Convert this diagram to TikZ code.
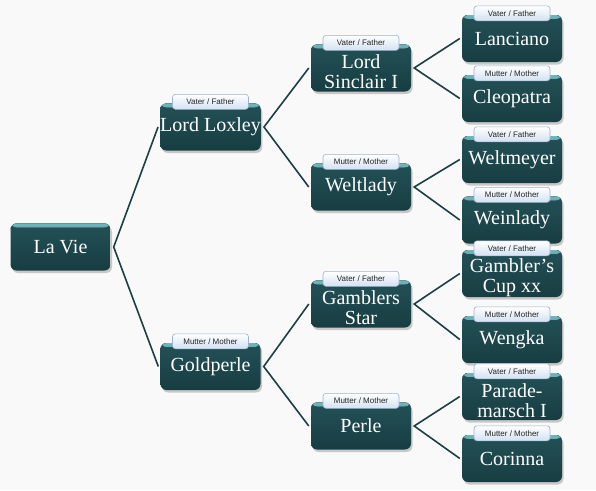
\documentclass[tikz,border=0pt]{standalone}
\usepackage{fontspec}
\setmainfont{Liberation Serif}
\newfontfamily\tabfont{Liberation Sans}
\usetikzlibrary{shadows,calc}
\definecolor{boxtop}{HTML}{235157}
\definecolor{boxbot}{HTML}{173D42}
\definecolor{bevel}{HTML}{6FB5BA}
\definecolor{linecol}{HTML}{1B3F44}
\definecolor{tabtop}{HTML}{FFFFFF}
\definecolor{tabbot}{HTML}{D3E1F2}
\definecolor{tabline}{HTML}{9DB3CF}
\definecolor{bg}{HTML}{F9F9F9}
\tikzset{
  horse/.style={rounded corners=6pt, minimum width=100pt, minimum height=47pt,
    inner sep=0pt, align=center, text=white,
    font=\fontsize{20}{20}\selectfont,
    top color=boxtop, bottom color=boxbot,
    drop shadow={opacity=0.4, shadow xshift=1.5pt, shadow yshift=-2.5pt},
    path picture={\fill[top color=bevel, bottom color=boxtop]
      (path picture bounding box.north west) rectangle
      ([yshift=-4pt]path picture bounding box.north east);}},
  tabbox/.style={rounded corners=3pt, minimum width=76pt, minimum height=15pt,
    inner sep=0pt, top color=tabtop, bottom color=tabbot, draw=tabline,
    line width=0.6pt, font=\tabfont\fontsize{8}{8}\selectfont, text=black!85,
    yshift=1.5pt},
  conn/.style={draw=linecol, line width=1.6pt}
}
\newcommand{\tallline}{\rule{0pt}{22pt}}
\begin{document}
\begin{tikzpicture}[x=1pt,y=-1pt]
\fill[bg] (0,0) rectangle (596,490);
\useasboundingbox (0,0) rectangle (596,490);
% level 0
\node[horse] (lavie) at (60.5,247) {La Vie};
% level 1
\node[horse] (loxley) at (210.5,127) {Lord Loxley};
\node[horse] (goldperle) at (210.5,366.5) {Goldperle};
% level 2
\node[horse] (sinclair) at (361,68) {\tallline Lord\\Sinclair I};
\node[horse] (weltlady) at (361,187) {Weltlady};
\node[horse] (gstar) at (361,304) {\tallline Gamblers\\Star};
\node[horse] (perle) at (361,426) {Perle};
% level 3
\node[horse] (lanciano) at (512,38.5) {Lanciano};
\node[horse] (cleopatra) at (512,98.5) {Cleopatra};
\node[horse] (weltmeyer) at (512,159.5) {Weltmeyer};
\node[horse] (weinlady) at (512,220) {Weinlady};
\node[horse] (gcup) at (512,273.5) {\tallline Gambler's\\Cup xx};
\node[horse] (wengka) at (512,339.5) {Wengka};
\node[horse] (parade) at (512,396.5) {\tallline Parade-\\marsch I};
\node[horse] (corinna) at (512,458.5) {Corinna};
% tabs
\node[tabbox] (t1) at (loxley.north) {Vater / Father};
\node[tabbox] (t2) at (goldperle.north) {Mutter / Mother};
\node[tabbox] (t3) at (sinclair.north) {Vater / Father};
\node[tabbox] (t4) at (weltlady.north) {Mutter / Mother};
\node[tabbox] (t5) at (gstar.north) {Vater / Father};
\node[tabbox] (t6) at (perle.north) {Mutter / Mother};
\node[tabbox] (t7) at (lanciano.north) {Vater / Father};
\node[tabbox] (t8) at (cleopatra.north) {Mutter / Mother};
\node[tabbox] (t9) at (weltmeyer.north) {Vater / Father};
\node[tabbox] (t10) at (weinlady.north) {Mutter / Mother};
\node[tabbox] (t11) at (gcup.north) {Vater / Father};
\node[tabbox] (t12) at (wengka.north) {Mutter / Mother};
\node[tabbox] (t13) at (parade.north) {Vater / Father};
\node[tabbox] (t14) at (corinna.north) {Mutter / Mother};
% connectors
\foreach \p/\a/\b in {lavie/loxley/goldperle, loxley/sinclair/weltlady,
  goldperle/gstar/perle, sinclair/lanciano/cleopatra, weltlady/weltmeyer/weinlady,
  gstar/gcup/wengka, perle/parade/corinna}{
  \draw[conn] ([xshift=-2pt]\a.west) -- ([xshift=3pt]\p.east) -- ([xshift=-2pt]\b.west);
}
\end{tikzpicture}
\end{document}
